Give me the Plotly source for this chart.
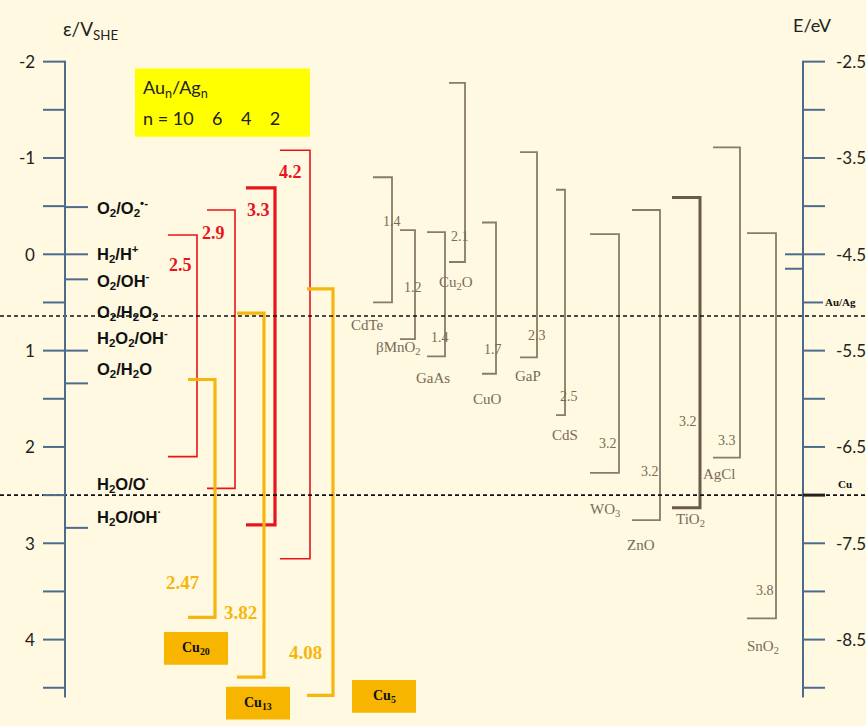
import plotly.graph_objects as go

# ---------------- data (potentials in V vs SHE) ----------------
left_major = [-2, -1, 0, 1, 2, 3, 4]
left_minor = [-1.5, -0.5, 0.5, 1.5, 2.5, 3.5, 4.5]
right_major = [-2.5, -3.5, -4.5, -5.5, -6.5, -7.5, -8.5]
right_minor = [-3.0, -4.0, -6.0, -8.0, -9.0]
E_SHIFT = -4.5  # E(eV) = E_SHIFT - eps(V)

redox_names = ["O<sub>2</sub>/O<sub>2</sub><sup>•-</sup>", "H<sub>2</sub>/H<sup>+</sup>",
               "O<sub>2</sub>/OH<sup>-</sup>", "O<sub>2</sub>/H<sub>2</sub>O<sub>2</sub>",
               "H<sub>2</sub>O<sub>2</sub>/OH<sup>-</sup>", "O<sub>2</sub>/H<sub>2</sub>O",
               "H<sub>2</sub>O/O<sup>·</sup>", "H<sub>2</sub>O/OH<sup>·</sup>"]
redox_pot = [-0.49, 0.0, 0.26, 0.64, 1.0, 1.34, 2.5, 2.84]
redox_label_pos = [-0.48, 0.0, 0.28, 0.61, 0.87, 1.20, 2.38, 2.73]
redox_ticked = [True, True, True, False, True, True, False, True]

fermi_levels = [0.64, 2.5]           # dashed lines (Au/Ag, Cu)
fermi_names = ["Au/Ag", "Cu"]
side_ticks_E = [-4.5, -4.65]

au_n = [10, 6, 4, 2]
au_gap = ["2.5", "2.9", "3.3", "4.2"]
au_top = [-0.20, -0.46, -0.69, -1.08]
au_bottom = [2.10, 2.43, 2.81, 3.16]

cu_names = ["Cu<sub>20</sub>", "Cu<sub>13</sub>", "Cu<sub>5</sub>"]
cu_gap = ["2.47", "3.82", "4.08"]
cu_top = [1.30, 0.61, 0.36]
cu_bottom = [3.77, 4.39, 4.58]

sc_names = ["CdTe", "βMnO<sub>2</sub>", "GaAs", "Cu<sub>2</sub>O", "CuO", "GaP", "CdS",
            "WO<sub>3</sub>", "ZnO", "TiO<sub>2</sub>", "AgCl", "SnO<sub>2</sub>"]
sc_gap = ["1.4", "1.2", "1.4", "2.1", "1.7", "2.3", "2.5", "3.2", "3.2", "3.2", "3.3", "3.8"]
sc_top = [-0.80, -0.25, -0.23, -1.78, -0.33, -1.06, -0.67, -0.21, -0.46, -0.59, -1.11, -0.22]
sc_bottom = [0.50, 0.88, 1.06, 0.08, 1.24, 1.07, 1.67, 2.27, 2.76, 2.63, 2.11, 3.78]

# ---------------- layout (positions / styles) ----------------
AX_L, AX_R = 65, 803
BG = "#FEF9E0"
AXC = "#4D6B8C"
RED = "#E8141C"
ORG = "#F7B60E"
SCC = "#8A7A68"

au_x = [(168, 197), (207, 235), (246, 275), (280, 310)]
au_w = [1.6, 1.6, 3.2, 1.6]
au_lab = [(180, 0.11), (213, -0.22), (258, -0.46), (290, -0.85)]
cu_x = [(188, 215), (237, 264), (307, 333)]
cu_lab = [(183, 3.41), (240, 3.72), (305, 4.13)]
cu_box = [(196, 4.09), (258, 4.66), (384, 4.59)]
sc_x = [(373, 392), (400, 415), (427, 445), (449, 465), (482, 496), (520, 537),
        (556, 565), (590, 619), (632, 660), (672, 700), (713, 740), (747, 776)]
sc_gap_pos = [(392, -0.34), (413, 0.34), (440, 0.86), (460, -0.18), (493, 0.99), (537, 0.84),
              (569, 1.48), (608, 1.96), (650, 2.26), (688, 1.74), (727, 1.93), (765, 3.49)]
sc_name_pos = [(367, 0.73), (398, 0.97), (433, 1.28), (456, 0.30), (487, 1.50), (528, 1.26),
               (565, 1.88), (605, 2.65), (641, 3.02), (690, 2.76), (719, 2.28), (763, 4.08)]

fig = go.Figure()
shapes = []
anns = []


def seg(x0, x1, y0, y1, color, w, dash=None):
    d = dict(type="line", xref="x", yref="y", x0=x0, x1=x1, y0=y0, y1=y1,
             line=dict(color=color, width=w))
    if dash:
        d["line"]["dash"] = dash
    shapes.append(d)


def text(x, y, t, size, color, font="Lato, sans-serif", xanchor="center", bold=False):
    if bold:
        t = "<b>" + t + "</b>"
    anns.append(dict(x=x, y=y, xref="x", yref="y", text=t, showarrow=False,
                     font=dict(size=size, color=color, family=font), xanchor=xanchor,
                     yanchor="middle"))


# dashed fermi lines
for lv in fermi_levels:
    seg(0, 866, lv, lv, "#111111", 1.6, dash="4px,3px")

# axes
seg(AX_L, AX_L, -2.01, 4.60, AXC, 2)
seg(AX_R, AX_R, -2.01, 4.60, AXC, 2)
for v in left_major + left_minor:
    seg(43, AX_L, v, v, AXC, 2)
for v in left_major:
    text(37, v, f"{v}", 17, "#222222", xanchor="right")
for p, t in zip(redox_pot, redox_ticked):
    if t:
        seg(AX_L, 88, p, p, AXC, 2)
for lab, p in zip(redox_names, redox_label_pos):
    text(95, p, lab, 16.5, "#111111", font="Liberation Sans, Arial", xanchor="left", bold=True)

for E in right_major + right_minor:
    eps = E_SHIFT - E
    seg(AX_R, 825, eps, eps, AXC, 2)
for E in right_major:
    text(834, E_SHIFT - E, f"{E}", 17, "#222222", xanchor="left")
for E in side_ticks_E:
    eps = E_SHIFT - E
    seg(785, AX_R, eps, eps, AXC, 2)
# Au/Ag and Cu markers on the energy axis
seg(AX_R, 823, 0.5, 0.5, AXC, 2)
text(823, 0.5, fermi_names[0], 11, "#111111", font="Liberation Serif, serif", xanchor="left", bold=True)
seg(AX_R, 825, fermi_levels[1], fermi_levels[1], "#222222", 3)
text(836, 2.38, fermi_names[1], 11, "#111111", font="Liberation Serif, serif", xanchor="left", bold=True)

text(90, -2.33, "ε/V<sub>SHE</sub>", 19, "#222222")
text(812, -2.38, "E/eV", 18, "#222222")


def bracket(x0, x1, top, bot, color, w, name):
    fig.add_trace(go.Scatter(x=[x0, x1, x1, x0], y=[top, top, bot, bot], mode="lines",
                             line=dict(color=color, width=w), hoverinfo="skip",
                             showlegend=False, name=name))


# semiconductors
for i, nm in enumerate(sc_names):
    x0, x1 = sc_x[i]
    w = 3 if nm.startswith("TiO") else 1.8
    c = "#6A5A48" if nm.startswith("TiO") else SCC
    bracket(x0, x1, sc_top[i], sc_bottom[i], c, w, nm)
    text(sc_gap_pos[i][0], sc_gap_pos[i][1], sc_gap[i], 14, "#7A6A58", font="Liberation Serif, serif")
    text(sc_name_pos[i][0], sc_name_pos[i][1], nm, 15, "#7A6A58", font="Liberation Serif, serif")

# Au/Ag clusters
for i, n in enumerate(au_n):
    x0, x1 = au_x[i]
    bracket(x0, x1, au_top[i], au_bottom[i], RED, au_w[i], f"n={n}")
    text(au_lab[i][0], au_lab[i][1], au_gap[i], 18, RED, font="Liberation Serif, serif", bold=True)

# Cu clusters
for i, nm in enumerate(cu_names):
    x0, x1 = cu_x[i]
    bracket(x0, x1, cu_top[i], cu_bottom[i], ORG, 3.2, nm)
    text(cu_lab[i][0], cu_lab[i][1], cu_gap[i], 19, ORG, font="Liberation Serif, serif", bold=True)
    cx, cy = cu_box[i]
    shapes.append(dict(type="rect", xref="x", yref="y", x0=cx - 32, x1=cx + 32,
                       y0=cy - 0.17, y1=cy + 0.17, fillcolor="#F7B500", line=dict(width=0)))
    text(cx, cy, nm, 14, "#111111", font="Liberation Serif, serif", bold=True)

# legend box for Au/Ag
shapes.append(dict(type="rect", xref="x", yref="y", x0=135, x1=310, y0=-1.93, y1=-1.22,
                   fillcolor="#FFFF00", line=dict(width=0), layer="below"))
text(141, -1.72, "Au<sub>n</sub>/Ag<sub>n</sub>", 18, "#222222", xanchor="left")
text(141, -1.41, "n = " + "    ".join(str(n) for n in au_n), 18, "#222222", xanchor="left")

fig.update_layout(
    width=866, height=726, margin=dict(l=0, r=0, t=0, b=0),
    paper_bgcolor=BG, plot_bgcolor=BG, shapes=shapes, annotations=anns,
    xaxis=dict(range=[0, 866], visible=False, fixedrange=True),
    yaxis=dict(range=[4.897, -2.640], visible=False, fixedrange=True),
    showlegend=False,
)
fig.write_html("out.html", config={"displayModeBar": False},
               post_script="document.body.style.margin='0';document.body.style.overflow='hidden';")
